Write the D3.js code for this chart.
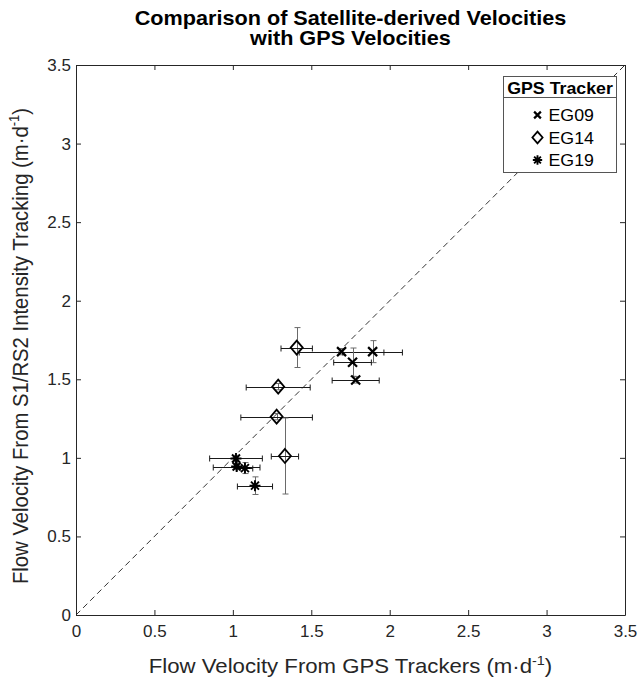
<!DOCTYPE html>
<html><head><meta charset="utf-8">
<script src="https://cdn.jsdelivr.net/npm/d3@7"></script>
<style>
body{margin:0;background:#fff;}
svg{display:block;font-family:"Liberation Sans",Arial,Helvetica,sans-serif;}
</style></head>
<body><svg id="c" width="641" height="682"></svg>
<script>
// ---- data ----
const ticks = [0, 0.5, 1, 1.5, 2, 2.5, 3, 3.5];
const tickLabels = ["0", "0.5", "1", "1.5", "2", "2.5", "3", "3.5"];
const seriesNames = ["EG09", "EG14", "EG19"];
const eg09X = [1.693, 1.891, 1.763, 1.783];
const eg09Y = [1.676, 1.676, 1.609, 1.496];
const eg09XErr = [0.27, 0.19, 0.12, 0.15];
const eg09YErr = [0.02, 0.07, 0.09, 0.02];
const eg14X = [1.407, 1.289, 1.279, 1.332];
const eg14Y = [1.702, 1.453, 1.262, 1.012];
const eg14XErr = [0.10, 0.204, 0.228, 0.087];
const eg14YErr = [0.127, 0.02, 0.02, 0.242];
const eg19X = [1.020, 1.024, 1.077, 1.141];
const eg19Y = [0.996, 0.945, 0.935, 0.823];
const eg19XErr = [0.168, 0.149, 0.05, 0.112];
const eg19YErr = [0.02, 0.02, 0.035, 0.056];
const oneToOne = [0, 3.5];

const svg = d3.select("#c");
const x = d3.scaleLinear().domain([0, 3.5]).range([76, 625]);
const y = d3.scaleLinear().domain([0, 3.5]).range([615, 65]);
const axisColor = "#262626";
const SX = 1.11; // horizontal stretch of the text in the reference

// one-to-one dashed line
svg.append("line")
  .attr("x1", x(oneToOne[0])).attr("y1", y(oneToOne[0]))
  .attr("x2", x(oneToOne[1])).attr("y2", y(oneToOne[1]))
  .attr("stroke", "#333").attr("stroke-width", 1).attr("stroke-dasharray", "6,4");

// axes
function styleAxis(g) {
  g.selectAll("path.domain").attr("stroke", axisColor);
  g.selectAll(".tick line").attr("stroke", axisColor);
  g.selectAll(".tick text").attr("fill", axisColor).attr("font-size", 17)
    .attr("font-family", "'Liberation Sans',Arial,sans-serif");
}
const fmt = (d, i) => tickLabels[i];
svg.append("g").attr("transform", `translate(0,${y(0)})`)
  .call(d3.axisBottom(x).tickValues(ticks).tickFormat(fmt).tickSizeInner(-5).tickSizeOuter(0).tickPadding(10))
  .call(styleAxis);
svg.append("g").attr("transform", `translate(${x(0)},0)`)
  .call(d3.axisLeft(y).tickValues(ticks).tickFormat(fmt).tickSizeInner(-5).tickSizeOuter(0).tickPadding(5))
  .call(styleAxis);
svg.append("g").attr("transform", `translate(0,${y(3.5)})`)
  .call(d3.axisTop(x).tickValues(ticks).tickFormat("").tickSizeInner(-5).tickSizeOuter(0))
  .call(styleAxis);
svg.append("g").attr("transform", `translate(${x(3.5)},0)`)
  .call(d3.axisRight(y).tickValues(ticks).tickFormat("").tickSizeInner(-5).tickSizeOuter(0))
  .call(styleAxis);

// markers
const markerPaths = {
  EG09: "M-4.5,-4.5L4.5,4.5M-4.5,4.5L4.5,-4.5",
  EG14: "M0,-7L6,0L0,7L-6,0Z",
  EG19: "M-5.5,0L5.5,0M0,-5.5L0,5.5M-4,-4L4,4M-4,4L4,-4"
};
const markerWidth = {EG09: 2.2, EG14: 1.8, EG19: 1.9};

const series = [
  {name: "EG09", xs: eg09X, ys: eg09Y, xe: eg09XErr, ye: eg09YErr},
  {name: "EG14", xs: eg14X, ys: eg14Y, xe: eg14XErr, ye: eg14YErr},
  {name: "EG19", xs: eg19X, ys: eg19Y, xe: eg19XErr, ye: eg19YErr}
];
const cap = 3;
series.forEach(s => {
  const pts = s.xs.map((v, i) => ({x: v, y: s.ys[i], xe: s.xe[i], ye: s.ye[i]}));
  const g = svg.append("g");
  pts.forEach(p => {
    const cx = Math.round(x(p.x)) + 0.5;
    const y1 = y(p.y + p.ye), y2 = y(p.y - p.ye);
    g.append("path").attr("fill", "none").attr("stroke", "#6a6a6a").attr("stroke-width", 1)
      .attr("d", `M${cx},${y1}L${cx},${y2}M${cx - cap},${y1}L${cx + cap},${y1}M${cx - cap},${y2}L${cx + cap},${y2}`);
    const cy = Math.round(y(p.y)) + 0.5;
    const x1 = x(p.x - p.xe), x2 = x(p.x + p.xe);
    g.append("path").attr("fill", "none").attr("stroke", "#1a1a1a").attr("stroke-width", 1)
      .attr("d", `M${x1},${cy}L${x2},${cy}M${x1},${cy - cap}L${x1},${cy + cap}M${x2},${cy - cap}L${x2},${cy + cap}`);
  });
  g.selectAll("path.mk").data(pts).enter().append("path").attr("class", "mk")
    .attr("transform", p => `translate(${x(p.x)},${y(p.y)})`)
    .attr("d", markerPaths[s.name]).attr("fill", "none")
    .attr("stroke", "#000").attr("stroke-width", markerWidth[s.name]);
});

// title
const title = svg.append("text").attr("transform", `translate(350.5,0) scale(${SX},1)`)
  .attr("text-anchor", "middle").attr("font-weight", "bold")
  .attr("font-size", 19.5).attr("fill", "#000");
title.append("tspan").attr("x", 0).attr("y", 25).text("Comparison of Satellite-derived Velocities");
title.append("tspan").attr("x", 0).attr("y", 45.5).text("with GPS Velocities");

// axis labels
const xl = svg.append("text").attr("transform", `translate(350.5,673) scale(${SX},1)`)
  .attr("text-anchor", "middle").attr("font-size", 20).attr("fill", axisColor);
xl.append("tspan").text("Flow Velocity From GPS Trackers (m\u00b7d");
xl.append("tspan").attr("font-size", 13).attr("dy", -8).text("-1");
xl.append("tspan").attr("dy", 8).text(")");

const yl = svg.append("text").attr("transform", `translate(28,346) scale(${SX},1) rotate(-90)`)
  .attr("text-anchor", "middle").attr("font-size", 20.3).attr("fill", axisColor);
yl.append("tspan").text("Flow Velocity From S1/RS2 Intensity Tracking (m\u00b7d");
yl.append("tspan").attr("font-size", 13).attr("dy", -8).text("-1");
yl.append("tspan").attr("dy", 8).text(")");

// legend
const lg = svg.append("g");
lg.append("rect").attr("x", 503.5).attr("y", 76.5).attr("width", 113).attr("height", 96)
  .attr("fill", "#fff").attr("stroke", "#555").attr("stroke-width", 1);
lg.append("line").attr("x1", 503.5).attr("x2", 616.5).attr("y1", 97.5).attr("y2", 97.5)
  .attr("stroke", "#555");
lg.append("text").attr("transform", `translate(560,93.5) scale(${SX},1)`).attr("text-anchor", "middle")
  .attr("font-weight", "bold").attr("font-size", 16).attr("fill", "#000").text("GPS Tracker");
const legendY = [115, 137.5, 160];
const legendScale = {EG09: 0.75, EG14: 0.85, EG19: 0.85};
seriesNames.forEach((n, i) => {
  lg.append("path").attr("transform", `translate(537.5,${legendY[i]}) scale(${legendScale[n]})`)
    .attr("d", markerPaths[n]).attr("fill", "none").attr("stroke", "#000")
    .attr("stroke-width", markerWidth[n] / legendScale[n]);
  lg.append("text").attr("transform", `translate(548.5,${legendY[i] + 6}) scale(${SX},1)`)
    .attr("font-size", 16).attr("fill", "#000").text(n);
});
</script></body></html>
